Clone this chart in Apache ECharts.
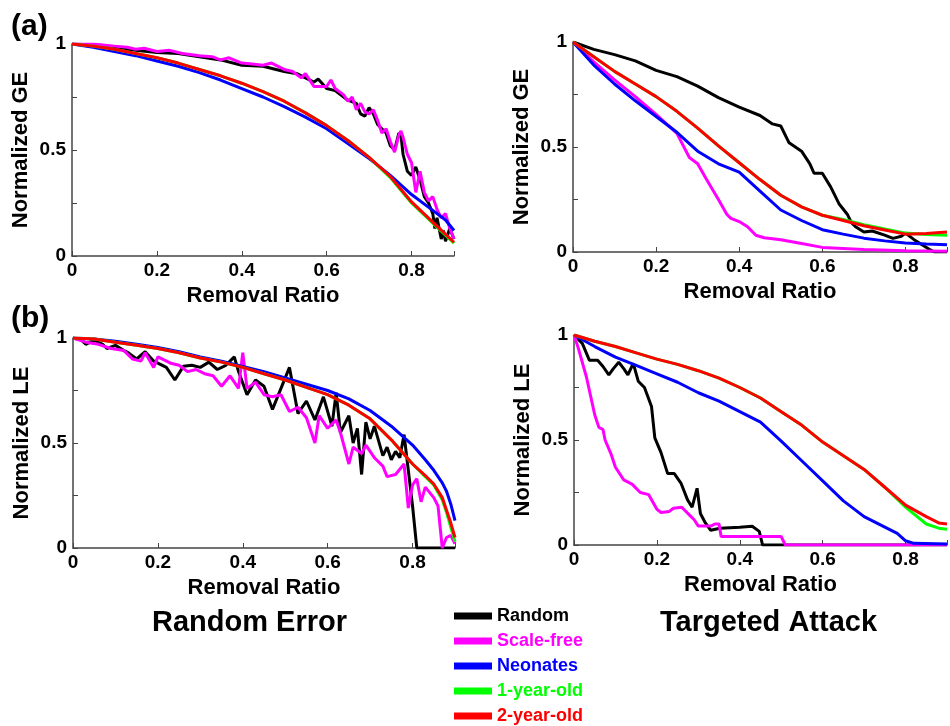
<!DOCTYPE html>
<html>
<head>
<meta charset="utf-8">
<script src="https://cdn.jsdelivr.net/npm/echarts@6/dist/echarts.min.js"></script>
<style>
  html, body { margin: 0; padding: 0; background: #fff; }
  #main { width: 950px; height: 726px; }
</style>
</head>
<body>
<div id="main"></div>
<script>
// legend names and colours
var seriesNames = ['Random', 'Scale-free', 'Neonates', '1-year-old', '2-year-old'];
var seriesColors = ['#000000', '#ff00ff', '#0000ff', '#00ff00', '#ff0000'];
var xTicks = [0, 0.2, 0.4, 0.6, 0.8];
var yTicks = [0, 0.5, 1];

// (a) global efficiency, random error
var geRandRandom = [[0,1],[0.05,0.995],[0.1,0.98],[0.15,0.97],[0.2,0.96],[0.25,0.955],[0.3,0.94],[0.35,0.925],[0.4,0.9],[0.45,0.895],[0.5,0.87],[0.53,0.86],[0.55,0.84],[0.57,0.82],[0.58,0.835],[0.6,0.79],[0.62,0.78],[0.65,0.735],[0.67,0.72],[0.68,0.67],[0.69,0.66],[0.7,0.70],[0.71,0.67],[0.72,0.62],[0.74,0.58],[0.75,0.52],[0.76,0.50],[0.77,0.58],[0.775,0.57],[0.78,0.48],[0.79,0.40],[0.8,0.38],[0.81,0.42],[0.82,0.36],[0.83,0.28],[0.84,0.25],[0.85,0.20],[0.855,0.13],[0.86,0.18],[0.87,0.08],[0.875,0.12],[0.88,0.07],[0.89,0.13],[0.9,0.08]];
var geRandScale = [[0,1],[0.05,1],[0.1,0.99],[0.13,0.985],[0.15,0.975],[0.17,0.98],[0.2,0.965],[0.23,0.97],[0.26,0.955],[0.3,0.945],[0.33,0.94],[0.35,0.925],[0.37,0.935],[0.4,0.91],[0.43,0.905],[0.45,0.9],[0.47,0.91],[0.5,0.88],[0.52,0.87],[0.54,0.84],[0.55,0.86],[0.57,0.8],[0.58,0.8],[0.6,0.8],[0.61,0.83],[0.62,0.79],[0.64,0.76],[0.65,0.73],[0.66,0.75],[0.67,0.69],[0.68,0.72],[0.69,0.68],[0.7,0.67],[0.71,0.69],[0.72,0.64],[0.73,0.58],[0.74,0.6],[0.75,0.54],[0.76,0.49],[0.77,0.57],[0.775,0.59],[0.78,0.56],[0.79,0.48],[0.8,0.44],[0.81,0.30],[0.82,0.40],[0.83,0.30],[0.84,0.26],[0.85,0.28],[0.86,0.22],[0.87,0.18],[0.88,0.2],[0.89,0.13],[0.9,0.08]];
var geRandNeo = [[0,1],[0.05,0.985],[0.1,0.965],[0.15,0.945],[0.2,0.92],[0.25,0.895],[0.3,0.865],[0.35,0.83],[0.4,0.79],[0.45,0.75],[0.5,0.705],[0.55,0.655],[0.6,0.6],[0.65,0.53],[0.7,0.46],[0.75,0.38],[0.8,0.29],[0.85,0.215],[0.88,0.17],[0.9,0.12]];
var geRand1y = [[0,1],[0.05,0.99],[0.1,0.975],[0.15,0.955],[0.2,0.935],[0.25,0.91],[0.3,0.88],[0.35,0.85],[0.4,0.815],[0.45,0.775],[0.5,0.73],[0.55,0.675],[0.6,0.615],[0.65,0.545],[0.7,0.465],[0.75,0.37],[0.8,0.25],[0.85,0.155],[0.9,0.06]];
var geRand2y = [[0,1],[0.05,0.99],[0.1,0.975],[0.15,0.955],[0.2,0.935],[0.25,0.91],[0.3,0.88],[0.35,0.85],[0.4,0.815],[0.45,0.775],[0.5,0.73],[0.55,0.675],[0.6,0.615],[0.65,0.545],[0.7,0.465],[0.75,0.375],[0.8,0.255],[0.85,0.16],[0.9,0.065]];

// (a) global efficiency, targeted attack
var geAttRandom = [[0,1],[0.05,0.965],[0.1,0.94],[0.15,0.91],[0.2,0.865],[0.25,0.835],[0.3,0.79],[0.35,0.735],[0.4,0.69],[0.45,0.65],[0.48,0.61],[0.5,0.6],[0.52,0.52],[0.55,0.48],[0.57,0.42],[0.58,0.375],[0.6,0.375],[0.62,0.31],[0.64,0.23],[0.66,0.18],[0.67,0.14],[0.68,0.12],[0.7,0.095],[0.72,0.1],[0.75,0.08],[0.77,0.065],[0.79,0.075],[0.8,0.09],[0.82,0.06],[0.84,0.035],[0.86,0.01],[0.87,0],[0.9,0]];
var geAttScale = [[0,1],[0.05,0.905],[0.1,0.82],[0.15,0.74],[0.2,0.655],[0.25,0.565],[0.28,0.45],[0.3,0.42],[0.32,0.35],[0.35,0.25],[0.37,0.18],[0.38,0.16],[0.4,0.145],[0.42,0.12],[0.44,0.08],[0.46,0.068],[0.5,0.058],[0.55,0.04],[0.6,0.022],[0.7,0.012],[0.8,0.006],[0.9,0.003]];
var geAttNeo = [[0,1],[0.05,0.89],[0.1,0.8],[0.15,0.72],[0.2,0.645],[0.25,0.57],[0.3,0.48],[0.35,0.42],[0.4,0.38],[0.45,0.29],[0.5,0.2],[0.55,0.15],[0.6,0.106],[0.65,0.085],[0.7,0.066],[0.75,0.053],[0.8,0.043],[0.85,0.038],[0.9,0.035]];
var geAtt1y = [[0,1],[0.05,0.93],[0.1,0.86],[0.15,0.8],[0.2,0.74],[0.25,0.67],[0.3,0.59],[0.35,0.505],[0.4,0.425],[0.45,0.345],[0.5,0.27],[0.55,0.215],[0.6,0.175],[0.65,0.155],[0.7,0.13],[0.75,0.11],[0.8,0.09],[0.85,0.083],[0.9,0.08]];
var geAtt2y = [[0,1],[0.05,0.93],[0.1,0.86],[0.15,0.8],[0.2,0.74],[0.25,0.67],[0.3,0.59],[0.35,0.505],[0.4,0.425],[0.45,0.345],[0.5,0.27],[0.55,0.215],[0.6,0.175],[0.65,0.15],[0.7,0.125],[0.75,0.105],[0.8,0.085],[0.85,0.088],[0.9,0.095]];

// (b) local efficiency, random error
var leRandRandom = [[0,1],[0.02,0.99],[0.03,0.97],[0.05,0.99],[0.07,0.97],[0.08,0.95],[0.1,0.965],[0.12,0.94],[0.13,0.93],[0.15,0.9],[0.17,0.935],[0.19,0.89],[0.2,0.88],[0.22,0.86],[0.24,0.8],[0.26,0.865],[0.28,0.87],[0.3,0.86],[0.32,0.885],[0.34,0.85],[0.36,0.87],[0.38,0.91],[0.39,0.84],[0.41,0.73],[0.43,0.8],[0.45,0.77],[0.47,0.66],[0.49,0.76],[0.51,0.86],[0.53,0.64],[0.55,0.7],[0.57,0.61],[0.59,0.72],[0.61,0.58],[0.62,0.74],[0.63,0.55],[0.65,0.63],[0.66,0.5],[0.67,0.57],[0.68,0.35],[0.69,0.6],[0.7,0.52],[0.71,0.58],[0.73,0.44],[0.74,0.48],[0.75,0.42],[0.76,0.46],[0.77,0.43],[0.78,0.54],[0.79,0.37],[0.8,0.2],[0.81,0],[0.9,0]];
var leRandScale = [[0,1],[0.03,0.98],[0.06,0.97],[0.09,0.95],[0.12,0.94],[0.14,0.9],[0.16,0.89],[0.17,0.93],[0.19,0.86],[0.2,0.91],[0.23,0.88],[0.25,0.87],[0.27,0.84],[0.29,0.85],[0.31,0.83],[0.33,0.82],[0.35,0.77],[0.37,0.82],[0.39,0.76],[0.4,0.93],[0.41,0.76],[0.43,0.79],[0.45,0.73],[0.47,0.72],[0.49,0.73],[0.51,0.65],[0.53,0.67],[0.55,0.62],[0.57,0.5],[0.58,0.63],[0.6,0.57],[0.62,0.61],[0.63,0.55],[0.65,0.4],[0.66,0.48],[0.68,0.45],[0.69,0.49],[0.71,0.43],[0.73,0.39],[0.74,0.34],[0.76,0.35],[0.78,0.4],[0.79,0.19],[0.8,0.3],[0.81,0.33],[0.82,0.22],[0.83,0.29],[0.85,0.24],[0.86,0.2],[0.87,0],[0.88,0.05],[0.89,0.06],[0.9,0.02]];
var leRandNeo = [[0,1],[0.05,0.995],[0.1,0.985],[0.15,0.97],[0.2,0.955],[0.25,0.935],[0.3,0.91],[0.35,0.89],[0.4,0.865],[0.45,0.84],[0.5,0.81],[0.55,0.78],[0.6,0.75],[0.65,0.71],[0.7,0.655],[0.75,0.58],[0.8,0.49],[0.83,0.42],[0.85,0.37],[0.87,0.31],[0.88,0.27],[0.89,0.21],[0.9,0.13]];
var leRand1y = [[0,1],[0.05,0.995],[0.1,0.98],[0.15,0.965],[0.2,0.95],[0.25,0.93],[0.3,0.905],[0.35,0.885],[0.4,0.86],[0.45,0.83],[0.5,0.8],[0.55,0.765],[0.6,0.73],[0.65,0.68],[0.7,0.615],[0.75,0.515],[0.8,0.4],[0.83,0.34],[0.85,0.3],[0.87,0.23],[0.88,0.17],[0.89,0.1],[0.9,0.03]];
var leRand2y = [[0,1],[0.05,0.995],[0.1,0.98],[0.15,0.965],[0.2,0.95],[0.25,0.93],[0.3,0.905],[0.35,0.885],[0.4,0.86],[0.45,0.83],[0.5,0.8],[0.55,0.765],[0.6,0.73],[0.65,0.68],[0.7,0.615],[0.75,0.515],[0.8,0.4],[0.83,0.345],[0.85,0.305],[0.87,0.24],[0.88,0.18],[0.89,0.12],[0.9,0.05]];

// (b) local efficiency, targeted attack
var leAttRandom = [[0,1],[0.01,0.98],[0.02,0.96],[0.037,0.88],[0.057,0.88],[0.07,0.85],[0.084,0.81],[0.095,0.84],[0.108,0.87],[0.12,0.84],[0.13,0.81],[0.143,0.865],[0.155,0.78],[0.17,0.75],[0.187,0.66],[0.195,0.51],[0.21,0.44],[0.226,0.34],[0.242,0.34],[0.258,0.295],[0.274,0.215],[0.285,0.18],[0.297,0.27],[0.305,0.15],[0.317,0.105],[0.33,0.07],[0.352,0.08],[0.4,0.085],[0.43,0.089],[0.447,0.065],[0.455,0],[0.9,0]];
var leAttScale = [[0,1],[0.01,0.94],[0.03,0.8],[0.05,0.62],[0.06,0.56],[0.07,0.55],[0.075,0.5],[0.09,0.43],[0.1,0.37],[0.12,0.31],[0.14,0.29],[0.16,0.25],[0.18,0.24],[0.2,0.17],[0.21,0.155],[0.23,0.16],[0.24,0.175],[0.26,0.18],[0.28,0.14],[0.29,0.12],[0.3,0.09],[0.33,0.09],[0.34,0.1],[0.35,0.1],[0.355,0.04],[0.5,0.04],[0.51,0],[0.9,0]];
var leAttNeo = [[0,1],[0.05,0.945],[0.1,0.895],[0.15,0.855],[0.2,0.815],[0.25,0.775],[0.3,0.725],[0.35,0.685],[0.4,0.635],[0.45,0.585],[0.5,0.495],[0.55,0.4],[0.6,0.305],[0.65,0.21],[0.7,0.135],[0.75,0.085],[0.78,0.055],[0.8,0.02],[0.82,0.008],[0.9,0.005]];
var leAtt1y = [[0,1],[0.05,0.97],[0.1,0.945],[0.15,0.915],[0.2,0.885],[0.25,0.86],[0.3,0.83],[0.35,0.795],[0.4,0.75],[0.45,0.7],[0.5,0.635],[0.55,0.57],[0.6,0.49],[0.65,0.425],[0.7,0.36],[0.75,0.275],[0.8,0.18],[0.85,0.1],[0.88,0.08],[0.9,0.075]];
var leAtt2y = [[0,1],[0.05,0.97],[0.1,0.945],[0.15,0.915],[0.2,0.885],[0.25,0.86],[0.3,0.83],[0.35,0.795],[0.4,0.75],[0.45,0.7],[0.5,0.635],[0.55,0.57],[0.6,0.49],[0.65,0.425],[0.7,0.36],[0.75,0.275],[0.8,0.19],[0.85,0.135],[0.88,0.105],[0.9,0.1]];

var panels = [
  { grid: { left: 72, top: 44, width: 382, height: 212 }, yName: 'Normalized GE', data: [geRandRandom, geRandScale, geRandNeo, geRand1y, geRand2y] },
  { grid: { left: 573, top: 42, width: 382, height: 210 }, yName: 'Normalized GE', data: [geAttRandom, geAttScale, geAttNeo, geAtt1y, geAtt2y] },
  { grid: { left: 73, top: 338, width: 382, height: 210 }, yName: 'Normalized LE', data: [leRandRandom, leRandScale, leRandNeo, leRand1y, leRand2y] },
  { grid: { left: 574, top: 335, width: 382, height: 210 }, yName: 'Normalized LE', data: [leAttRandom, leAttScale, leAttNeo, leAtt1y, leAtt2y] }
];

var font = 'Liberation Sans';
var grids = [], xAxes = [], yAxes = [], series = [];

panels.forEach(function (p, i) {
  grids.push(p.grid);
  xAxes.push({
    type: 'value', gridIndex: i, min: 0, max: 0.9, interval: 0.2,
    name: 'Removal Ratio', nameLocation: 'middle', nameGap: 29,
    nameTextStyle: { fontFamily: font, fontWeight: 'bold', fontSize: 22, color: '#000' },
    axisLine: { show: true, lineStyle: { color: '#444', width: 1.5 } },
    axisTick: { show: true, inside: true, length: 5, lineStyle: { color: '#444' } },
    splitLine: { show: false },
    axisLabel: {
      margin: 5, fontFamily: font, fontWeight: 'bold', fontSize: 19, color: '#000',
      formatter: function (v) { return xTicks.indexOf(Math.round(v * 10) / 10) >= 0 && v < 0.85 ? String(Math.round(v * 10) / 10) : ''; }
    }
  });
  yAxes.push({
    type: 'value', gridIndex: i, min: 0, max: 1, interval: 0.25,
    name: p.yName, nameLocation: 'middle', nameGap: 40, nameRotate: 90,
    nameTextStyle: { fontFamily: font, fontWeight: 'bold', fontSize: 22, color: '#000' },
    axisLine: { show: true, lineStyle: { color: '#444', width: 1.5 } },
    axisTick: { show: true, inside: true, length: 5, lineStyle: { color: '#444' } },
    splitLine: { show: false },
    axisLabel: {
      margin: 6, fontFamily: font, fontWeight: 'bold', fontSize: 19, color: '#000',
      formatter: function (v) { return yTicks.indexOf(v) >= 0 ? String(v) : ''; }
    }
  });
  p.data.forEach(function (d, k) {
    series.push({
      type: 'line', name: seriesNames[k], xAxisIndex: i, yAxisIndex: i,
      data: d, showSymbol: false, symbol: 'none', color: seriesColors[k],
      lineStyle: { width: 3, color: seriesColors[k] }, animation: false, silent: true
    });
  });
});

var chart = echarts.init(document.getElementById('main'));
chart.setOption({
  backgroundColor: '#fff',
  animation: false,
  grid: grids,
  xAxis: xAxes,
  yAxis: yAxes,
  series: series,
  legend: {
    orient: 'vertical', left: 454, top: 607, padding: 0,
    itemWidth: 38, itemHeight: 7, itemGap: 7, icon: 'rect',
    textStyle: { fontFamily: font, fontWeight: 'bold', fontSize: 18, lineHeight: 18 },
    data: seriesNames.map(function (n, k) {
      return { name: n, textStyle: { color: seriesColors[k] } };
    })
  },
  graphic: [
    { type: 'text', left: 11, top: 12, style: { text: '(a)', font: 'bold 30px "Liberation Sans"', fill: '#000' } },
    { type: 'text', left: 11, top: 304, style: { text: '(b)', font: 'bold 30px "Liberation Sans"', fill: '#000' } },
    { type: 'text', left: 152, top: 608, style: { text: 'Random Error', font: 'bold 29px "Liberation Sans"', fill: '#000' } },
    { type: 'text', left: 660, top: 608, style: { text: 'Targeted Attack', font: 'bold 29px "Liberation Sans"', fill: '#000' } }
  ]
});
</script>
</body>
</html>
